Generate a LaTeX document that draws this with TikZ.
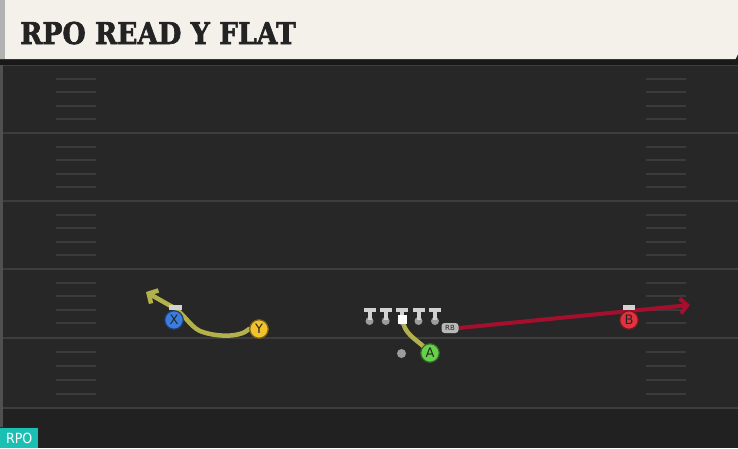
\documentclass[tikz,border=0pt]{standalone}
\usepackage{fontspec}
\usepackage{graphicx}
\usetikzlibrary{arrows.meta}
\newfontfamily\titlefont[BoldFeatures={FakeBold=2.2}]{DejaVu Serif}
\newfontfamily\labfont{DejaVu Sans}
\definecolor{fieldbg}{HTML}{272727}
\definecolor{fieldlow}{HTML}{212121}
\definecolor{yardc}{HTML}{3D3D3D}
\definecolor{hashc}{HTML}{3B3B3B}
\definecolor{titlebg}{HTML}{F3F1EA}
\definecolor{titletxt}{HTML}{232323}
\definecolor{routeY}{HTML}{B3B14B}
\definecolor{routeR}{HTML}{A50F2E}
\definecolor{pX}{HTML}{3B7DDD}
\definecolor{pY}{HTML}{F2C12E}
\definecolor{pA}{HTML}{66D04A}
\definecolor{pB}{HTML}{E0333F}
\definecolor{tgray}{HTML}{D2D2D2}
\definecolor{cgray}{HTML}{9C9C9C}
\definecolor{teal}{HTML}{1CC0B2}
\pgfdeclarelayer{field}
\pgfdeclarelayer{routes}
\pgfsetlayers{field,routes,main}
\tikzset{
  yardline/.style={draw=yardc, line width=2.4},
  hashmark/.style={draw=hashc, line width=2},
  player/.style={circle, minimum size=18.5, inner sep=0, line width=1.2, font=\labfont\fontsize{13}{13}\selectfont, text=black!85},
  lineman/.style={circle, fill=cgray, minimum size=8, inner sep=0},
  rbtag/.style={fill=black!28, rounded corners=3, minimum width=17, minimum height=10, inner sep=0,
    font=\labfont\fontsize{7}{7}\selectfont, text=black!85},
  yroute/.style={draw=routeY, line width=4.5, line cap=round, line join=round},
  rroute/.style={draw=routeR, line width=4, line join=round},
  barb/.style={-{Straight Barb[length=7,width=15]}},
}
\begin{document}
\begin{tikzpicture}[x=1pt,y=-1pt]
\useasboundingbox (0,0) rectangle (738,448);
\begin{pgfonlayer}{field}
\fill[fieldbg] (0,0) rectangle (738,448);
\fill[fieldlow] (0,408) rectangle (738,448);
\fill[yardc!90] (0,64) rectangle (2.5,448);
\foreach \yy in {65,133,201,269,338,408}
  \draw[yardline] (2.5,\yy) -- (738,\yy);
\foreach \b/\s in {65/13.6,133/13.6,201/13.6,269/13.6,338/14}
  \foreach \k in {1,...,4} {
    \draw[hashmark] (56,\b+\k*\s) -- (96,\b+\k*\s);
    \draw[hashmark] (646,\b+\k*\s) -- (686,\b+\k*\s);
  }
% title bar
\fill[black!90] (0,58) rectangle (738,64.5);
\fill[titlebg] (0,0) -- (738,0) -- (738,54) -- (735.5,59) -- (0,59) -- cycle;
\fill[black!30] (0,0) rectangle (5,59);
\fill[routeR!60!black] (0,426.5) rectangle (38,428);
\end{pgfonlayer}
\node[anchor=base west, inner sep=0, text=titletxt] (title) at (20,44)
  {\scalebox{0.89}[1]{\titlefont\bfseries\fontsize{30}{30}\selectfont RPO READ Y FLAT}};
\node[fill=teal, anchor=north west, minimum width=38, minimum height=20, inner sep=0, text=white,
  font=\labfont\fontsize{14}{14}\selectfont] (tag) at (0,428) {\scalebox{0.9}[1]{RPO}};
% players
\node[player, fill=pX, draw=pX!50!black] (X) at (174,320) {X};
\node[player, fill=pY, draw=pY!50!black] (Y) at (259,329) {Y};
\node[player, fill=pA, draw=pA!50!black] (A) at (430,353) {A};
\node[player, fill=pB, draw=pB!50!black] (B) at (629,320) {B};
\node[circle, fill=cgray, minimum size=9, inner sep=0] (qb) at (401.5,353.5) {};
\node[rbtag] (rb) at (450,328) {RB};
\fill[tgray] (169,305) rectangle (182,310);
\fill[tgray] (623,305) rectangle (635,309.5);
\foreach \n/\xx in {lt/369.5,lg/385.7,c/401.7,rg/418.5,rt/435} {
  \node[lineman] (\n) at (\xx,321) {};
  \fill[tgray] (\xx-6,308) rectangle (\xx+6,312);
  \fill[tgray] (\xx-2,311) rectangle (\xx+2,320);
}
\node[fill=white, minimum size=9, inner sep=0] (csq) at (402.5,319.5) {};
% routes
\coordinate (yend) at (146,292);
\coordinate (bend) at (690,305);
\begin{pgfonlayer}{routes}
\draw[yroute, barb] (Y.west) .. controls (240,338) and (215,337) .. (200,331)
  .. controls (189,326) and (184,312) .. (169,305) -- (yend);
\draw[yroute] (A.north west) .. controls (414,338) and (404,333) .. (csq.center);
\draw[rroute, barb] (rb.east) -- (bend);
\end{pgfonlayer}
\end{tikzpicture}
\end{document}
